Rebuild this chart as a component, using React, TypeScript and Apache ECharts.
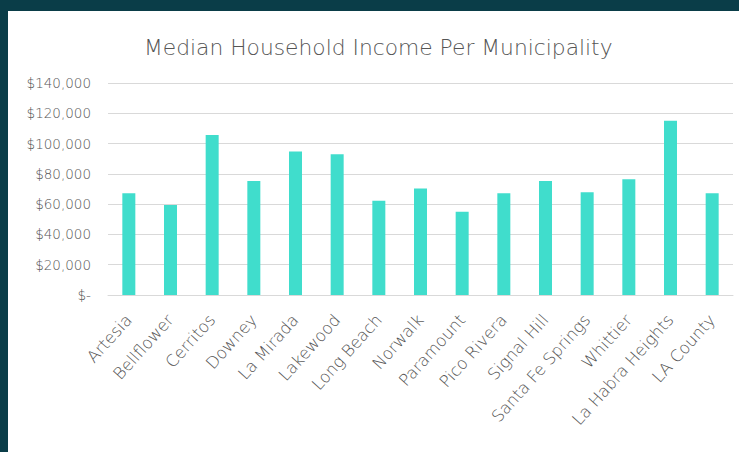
import React, { useEffect, useRef } from "react";
import * as echarts from "echarts";

const categories = [
  "Artesia",
  "Bellflower",
  "Cerritos",
  "Downey",
  "La Mirada",
  "Lakewood",
  "Long Beach",
  "Norwalk",
  "Paramount",
  "Pico Rivera",
  "Signal Hill",
  "Santa Fe Springs",
  "Whittier",
  "La Habra Heights",
  "LA County",
];

const incomes = [
  67200, 59500, 105700, 75300, 94700, 92900, 62300, 70400, 55000, 67200, 75300,
  67800, 76400, 115100, 67200,
];

const yMin = 0;
const yMax = 140000;
const yStep = 20000;

const titleText = "Median Household Income Per Municipality";

function formatMoney(v: number): string {
  if (v === 0) return "$-";
  return "$" + v.toLocaleString("en-US");
}

export default function App() {
  const ref = useRef<HTMLDivElement>(null);

  useEffect(() => {
    if (!ref.current) return;
    const chart = echarts.init(ref.current, null, { renderer: "svg" });
    const textColor = "#555555";
    const font = "'DejaVu Sans', Lato, sans-serif";
    chart.setOption({
      animation: false,
      backgroundColor: "#ffffff",
      title: {
        text: titleText,
        left: 131,
        top: 20,
        textStyle: {
          fontFamily: font,
          fontSize: 21.8,
          fontWeight: 200,
          color: textColor,
        },
      },
      grid: {
        left: 100,
        right: 6,
        top: 72,
        bottom: 157,
        containLabel: false,
      },
      xAxis: {
        type: "category",
        data: categories,
        axisLine: { show: true, lineStyle: { color: "#d9d9d9", width: 1 } },
        axisTick: { show: false },
        axisLabel: {
          interval: 0,
          rotate: 48,
          margin: 22,
          fontFamily: font,
          fontSize: 16.5,
          fontWeight: 200,
          color: textColor,
        },
      },
      yAxis: {
        type: "value",
        min: yMin,
        max: yMax,
        interval: yStep,
        axisLine: { show: false },
        axisTick: { show: false },
        splitLine: { show: true, lineStyle: { color: "#d9d9d9", width: 1 } },
        axisLabel: {
          margin: 17,
          fontFamily: font,
          fontSize: 13.5,
          fontWeight: 200,
          color: textColor,
          formatter: (v: number) => formatMoney(v),
        },
      },
      series: [
        {
          type: "bar",
          data: incomes,
          barWidth: 13,
          itemStyle: { color: "#40DDCC" },
        },
      ],
    });
    return () => chart.dispose();
  }, []);

  return (
    <div
      style={{
        position: "absolute",
        left: 0,
        top: 0,
        width: 739,
        height: 452,
        background: "#0a3d48",
        overflow: "hidden",
      }}
    >
      <div
        ref={ref}
        style={{
          position: "absolute",
          left: 8,
          top: 11,
          width: 731,
          height: 441,
          background: "#ffffff",
        }}
      />
    </div>
  );
}
